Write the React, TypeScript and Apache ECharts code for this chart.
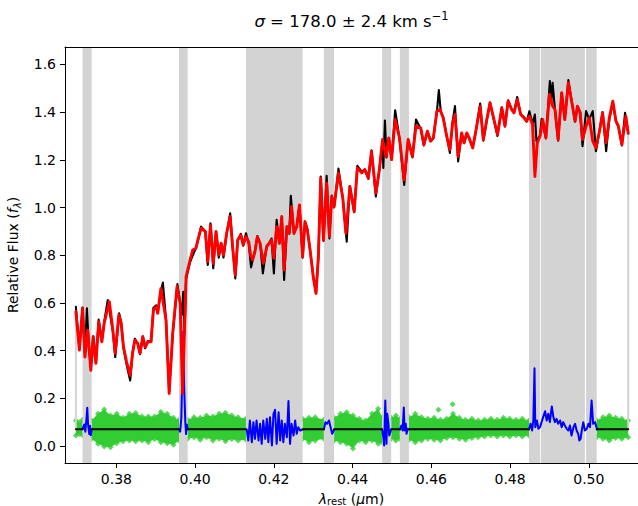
import React, { useEffect, useRef } from 'react';
import * as echarts from 'echarts';

const FONT = '"DejaVu Sans", sans-serif';
const X_MIN = 0.36694;
const X_MAX = 0.51249;
const Y_MIN = -0.0713;
const Y_MAX = 1.673;
const xTicks = [0.38, 0.4, 0.42, 0.44, 0.46, 0.48, 0.5];
const yTicks = [0, 0.2, 0.4, 0.6, 0.8, 1.0, 1.2, 1.4, 1.6];
const MN = 0.07;
const GREEN = '#32cd32';
const LGRAY = '#d3d3d3';

// observed galaxy spectrum [lambda (um), relative flux]
const galaxy = [
  [0.3697,0.584],[0.3706,0.41],[0.3714,0.58],[0.3720,0.38],[0.3725,0.577],[0.3729,0.45],[0.3735,0.33],[0.3741,0.46],[0.3748,0.35],[0.3755,0.53],[0.3763,0.44],[0.3769,0.52],[0.3778,0.612],[0.3791,0.48],[0.3797,0.373],[0.3807,0.556],[0.3812,0.52],[0.3818,0.41],[0.3826,0.34],[0.3835,0.275],[0.3841,0.39],[0.3847,0.45],[0.3854,0.43],[0.3860,0.385],[0.3867,0.46],[0.3873,0.41],[0.3880,0.44],[0.3888,0.44],[0.3894,0.58],[0.3901,0.59],[0.3905,0.56],[0.3913,0.65],[0.3918,0.685],[0.3926,0.53],[0.3934,0.23],[0.3943,0.47],[0.3955,0.679],[0.3962,0.60],[0.3966,0.55],[0.3970,0.647],[0.3973,0.47],[0.3977,0.70],[0.3987,0.77],[0.3994,0.80],[0.4002,0.83],[0.4007,0.86],[0.4015,0.92],[0.4026,0.90],[0.4032,0.759],[0.4039,0.934],[0.4046,0.745],[0.4053,0.90],[0.4060,0.79],[0.4066,0.85],[0.4072,0.79],[0.4080,0.89],[0.4089,0.976],[0.4095,0.84],[0.4102,0.703],[0.4108,0.86],[0.4116,0.89],[0.4122,0.84],[0.4129,0.892],[0.4136,0.85],[0.4142,0.749],[0.4152,0.82],[0.4158,0.88],[0.4165,0.85],[0.4172,0.724],[0.4182,0.84],[0.4188,0.85],[0.4194,0.87],[0.4200,0.724],[0.4207,0.948],[0.4214,0.85],[0.4220,0.96],[0.4226,0.696],[0.4233,0.92],[0.4239,0.89],[0.4243,1.049],[0.4251,0.89],[0.4258,0.92],[0.4265,1.01],[0.4273,0.79],[0.4279,0.94],[0.4285,0.91],[0.4292,0.82],[0.4300,0.71],[0.4307,0.64],[0.4313,0.79],[0.4319,1.130],[0.4326,0.86],[0.4334,1.133],[0.4341,0.87],[0.4347,1.05],[0.4353,1.00],[0.4364,1.163],[0.4375,1.04],[0.4385,0.857],[0.4393,1.09],[0.4404,0.98],[0.4412,1.175],[0.4423,1.15],[0.4431,1.16],[0.4440,1.12],[0.4448,1.24],[0.4459,1.046],[0.4468,1.16],[0.4476,1.28],[0.4478,1.166],[0.4482,1.365],[0.4486,1.21],[0.4492,1.29],[0.4499,1.20],[0.4508,1.408],[0.4519,1.29],[0.4531,1.095],[0.4541,1.285],[0.4552,1.21],[0.4561,1.369],[0.4573,1.33],[0.4581,1.26],[0.4590,1.32],[0.4598,1.28],[0.4605,1.29],[0.4614,1.40],[0.4619,1.492],[0.4624,1.40],[0.4630,1.38],[0.4639,1.30],[0.4647,1.229],[0.4654,1.36],[0.4660,1.425],[0.4668,1.193],[0.4677,1.31],[0.4683,1.27],[0.4690,1.31],[0.4696,1.29],[0.4705,1.25],[0.4713,1.32],[0.4724,1.436],[0.4732,1.28],[0.4741,1.37],[0.4749,1.44],[0.4757,1.38],[0.4768,1.30],[0.4779,1.42],[0.4787,1.34],[0.4795,1.45],[0.4804,1.41],[0.4810,1.40],[0.4818,1.463],[0.4827,1.39],[0.4835,1.38],[0.4842,1.36],[0.4849,1.404],[0.4857,1.35],[0.4863,1.390],[0.4867,1.278],[0.4876,1.30],[0.4880,1.372],[0.4891,1.29],[0.4901,1.530],[0.4905,1.45],[0.4908,1.523],[0.4914,1.41],[0.4922,1.28],[0.4931,1.48],[0.4939,1.37],[0.4948,1.534],[0.4957,1.44],[0.4965,1.36],[0.4971,1.42],[0.4978,1.40],[0.4984,1.257],[0.4993,1.404],[0.5001,1.37],[0.5010,1.404],[0.5018,1.236],[0.5027,1.32],[0.5035,1.40],[0.5044,1.236],[0.5052,1.37],[0.5061,1.44],[0.5069,1.36],[0.5075,1.34],[0.5084,1.26],[0.5092,1.397],[0.5100,1.31]
];

// best-fitting model
const bestfit = [
  [0.3697,0.563],[0.3706,0.402],[0.3714,0.578],[0.3720,0.373],[0.3727,0.486],[0.3735,0.317],[0.3741,0.458],[0.3748,0.347],[0.3755,0.521],[0.3763,0.437],[0.3769,0.515],[0.3775,0.557],[0.3782,0.605],[0.3791,0.486],[0.3797,0.389],[0.3806,0.549],[0.3812,0.515],[0.3818,0.415],[0.3826,0.352],[0.3835,0.296],[0.3841,0.389],[0.3847,0.444],[0.3854,0.430],[0.3860,0.389],[0.3867,0.458],[0.3873,0.415],[0.3880,0.437],[0.3888,0.437],[0.3894,0.570],[0.3901,0.584],[0.3905,0.556],[0.3913,0.661],[0.3926,0.528],[0.3934,0.220],[0.3943,0.472],[0.3954,0.668],[0.3962,0.598],[0.3968,0.220],[0.3977,0.710],[0.3987,0.780],[0.3994,0.822],[0.4002,0.829],[0.4007,0.864],[0.4015,0.913],[0.4026,0.899],[0.4032,0.773],[0.4039,0.927],[0.4046,0.766],[0.4053,0.899],[0.4060,0.801],[0.4066,0.850],[0.4072,0.801],[0.4080,0.892],[0.4089,0.962],[0.4095,0.836],[0.4102,0.717],[0.4108,0.864],[0.4116,0.885],[0.4122,0.843],[0.4129,0.878],[0.4136,0.857],[0.4141,0.800],[0.4146,0.780],[0.4152,0.815],[0.4158,0.878],[0.4165,0.850],[0.4173,0.766],[0.4182,0.836],[0.4188,0.850],[0.4194,0.864],[0.4200,0.787],[0.4207,0.920],[0.4214,0.850],[0.4220,0.962],[0.4226,0.738],[0.4233,0.920],[0.4239,0.892],[0.4245,1.004],[0.4251,0.892],[0.4258,0.920],[0.4265,1.011],[0.4273,0.794],[0.4279,0.941],[0.4285,0.906],[0.4292,0.822],[0.4300,0.710],[0.4307,0.640],[0.4313,0.794],[0.4319,1.124],[0.4326,0.864],[0.4334,1.103],[0.4341,0.878],[0.4347,1.046],[0.4353,1.004],[0.4364,1.145],[0.4375,1.040],[0.4383,0.892],[0.4393,1.088],[0.4404,0.983],[0.4412,1.166],[0.4423,1.145],[0.4431,1.159],[0.4440,1.124],[0.4448,1.235],[0.4459,1.061],[0.4468,1.159],[0.4476,1.285],[0.4485,1.214],[0.4492,1.292],[0.4499,1.201],[0.4508,1.369],[0.4519,1.292],[0.4531,1.116],[0.4541,1.285],[0.4552,1.214],[0.4561,1.341],[0.4573,1.334],[0.4581,1.264],[0.4590,1.320],[0.4598,1.278],[0.4605,1.292],[0.4614,1.404],[0.4622,1.411],[0.4630,1.376],[0.4639,1.299],[0.4647,1.243],[0.4654,1.355],[0.4660,1.390],[0.4668,1.214],[0.4677,1.313],[0.4683,1.271],[0.4690,1.313],[0.4696,1.292],[0.4705,1.250],[0.4713,1.320],[0.4724,1.425],[0.4732,1.285],[0.4741,1.369],[0.4749,1.439],[0.4757,1.383],[0.4768,1.306],[0.4779,1.418],[0.4787,1.341],[0.4795,1.446],[0.4804,1.411],[0.4810,1.397],[0.4818,1.453],[0.4827,1.390],[0.4835,1.376],[0.4842,1.362],[0.4849,1.383],[0.4857,1.348],[0.4863,1.130],[0.4869,1.271],[0.4876,1.299],[0.4883,1.369],[0.4891,1.292],[0.4900,1.474],[0.4908,1.425],[0.4914,1.411],[0.4922,1.285],[0.4931,1.481],[0.4939,1.369],[0.4948,1.523],[0.4957,1.439],[0.4965,1.362],[0.4971,1.425],[0.4978,1.397],[0.4984,1.285],[0.4993,1.341],[0.5001,1.376],[0.5010,1.278],[0.5018,1.250],[0.5027,1.320],[0.5035,1.397],[0.5044,1.271],[0.5052,1.376],[0.5061,1.446],[0.5069,1.362],[0.5075,1.341],[0.5084,1.264],[0.5094,1.383],[0.5100,1.313]
];

// masked wavelength ranges (gray spans)
const maskBands = [
  [0.3714,0.3737],[0.3959,0.3981],[0.4129,0.4273],[0.4327,0.4353],[0.4475,0.4498],[0.4520,0.4543],[0.4848,0.4876],[0.4878,0.4990],[0.4993,0.5020]
];

// residuals (offset by MN) inside the masked ranges
const blue1 = [[0.3714,0.07],[0.3718,0.09],[0.3721,0.06],[0.3724,0.115],[0.3726,0.16],[0.3728,0.09],[0.3731,0.05],[0.3733,0.085],[0.3735,0.045],[0.3737,0.07]];
const blue2 = [[0.3959,0.07],[0.3962,0.06],[0.3965,0.12],[0.3968,0.36],[0.3970,0.48],[0.3972,0.25],[0.3975,0.10],[0.3977,0.05],[0.3979,0.09],[0.3981,0.07]];
const blue3 = [[0.4129,0.069],[0.4131,0.069],[0.4135,0.023],[0.4139,0.107],[0.4144,0.016],[0.4148,0.100],[0.4152,0.030],[0.4156,0.107],[0.4161,0.023],[0.4165,0.093],[0.4169,0.009],[0.4173,0.107],[0.4178,0.030],[0.4182,0.114],[0.4186,0.016],[0.4190,0.121],[0.4195,0.002],[0.4199,0.135],[0.4203,0.152],[0.4207,0.009],[0.4212,0.142],[0.4216,0.023],[0.4220,0.107],[0.4224,0.016],[0.4228,0.093],[0.4233,0.037],[0.4237,0.189],[0.4241,0.009],[0.4245,0.093],[0.4250,0.044],[0.4254,0.107],[0.4258,0.051],[0.4262,0.079],[0.4267,0.065],[0.4273,0.069]];
const blue4 = [[0.4327,0.069],[0.4331,0.100],[0.4335,0.093],[0.4340,0.107],[0.4344,0.079],[0.4348,0.051],[0.4353,0.069]];
const blue5 = [[0.4475,0.069],[0.4478,0.037],[0.4480,0.002],[0.4483,0.191],[0.4486,0.009],[0.4488,0.135],[0.4491,0.093],[0.4493,0.044],[0.4498,0.069]];
const blue6 = [[0.4520,0.069],[0.4524,0.086],[0.4527,0.065],[0.4530,0.161],[0.4532,0.065],[0.4535,0.093],[0.4537,0.051],[0.4540,0.072],[0.4543,0.069]];
const blue7 = [[0.4848,0.069],[0.4852,0.093],[0.4856,0.065],[0.4859,0.107],[0.4862,0.326],[0.4864,0.079],[0.4868,0.107],[0.4872,0.072],[0.4876,0.079],[0.4880,0.100],[0.4884,0.121],[0.4889,0.146],[0.4893,0.107],[0.4897,0.135],[0.4901,0.100],[0.4906,0.166],[0.4910,0.121],[0.4914,0.100],[0.4918,0.114],[0.4922,0.093],[0.4927,0.107],[0.4931,0.079],[0.4935,0.100],[0.4939,0.086],[0.4944,0.072],[0.4948,0.065],[0.4952,0.086],[0.4956,0.044],[0.4961,0.079],[0.4965,0.093],[0.4969,0.065],[0.4973,0.051],[0.4976,0.023],[0.4979,0.030],[0.4982,0.065],[0.4986,0.100],[0.4990,0.065],[0.4995,0.072],[0.4999,0.093],[0.5003,0.079],[0.5007,0.191],[0.5011,0.093],[0.5016,0.100],[0.5021,0.069]];
const blueSegs = [blue1, blue2, blue3, blue4, blue5, blue6, blue7];

// good-pixel ranges where the zero-residual (MN) level is marked
const goodRanges = [
  [0.3697,0.3714],[0.3737,0.3959],[0.3981,0.4129],[0.4273,0.4327],[0.4353,0.4475],[0.4498,0.4520],[0.4543,0.4848],[0.5020,0.5100]
];

// envelope of the good-pixel residual diamonds (null = gap)
const greenLam = [0.3697,0.3706,0.3714,null,
  0.3737,0.3753,0.3769,0.3785,0.3801,0.3817,0.3833,0.3849,0.3865,0.3881,0.3897,0.3913,0.3929,0.3945,0.3959,null,
  0.3981,0.3997,0.4013,0.4029,0.4045,0.4061,0.4077,0.4093,0.4109,0.4129,null,
  0.4273,0.4289,0.4305,0.4327,null,
  0.4353,0.4369,0.4385,0.4401,0.4417,0.4433,0.4449,0.4465,0.4475,null,
  0.4498,0.4510,0.4520,null,
  0.4543,0.4559,0.4575,0.4591,0.4607,0.4623,0.4639,0.4655,0.4671,0.4687,0.4703,0.4719,0.4735,0.4751,0.4767,0.4783,0.4799,0.4815,0.4831,0.4848,null,
  0.5020,0.5036,0.5052,0.5068,0.5084,0.5100];
const greenHi = [0.107,0.100,0.110,null,
  0.107,0.135,0.153,0.128,0.135,0.118,0.135,0.138,0.124,0.124,0.124,0.143,0.135,0.118,0.110,null,
  0.110,0.121,0.118,0.128,0.124,0.135,0.139,0.128,0.121,0.114,null,
  0.114,0.118,0.121,0.110,null,
  0.118,0.135,0.142,0.128,0.114,0.107,0.135,0.156,0.121,null,
  0.118,0.128,0.114,null,
  0.121,0.135,0.121,0.114,0.118,0.110,0.114,0.135,0.118,0.110,0.114,0.107,0.110,0.114,0.110,0.118,0.114,0.110,0.114,0.107,null,
  0.107,0.121,0.128,0.118,0.114,0.107];
const greenLo = [0.044,0.050,0.045,null,
  0.030,0.009,-0.002,-0.005,0.012,0.020,0.023,0.020,0.023,0.016,0.029,0.016,0.012,0.005,0.023,null,
  0.030,0.037,0.026,0.037,0.023,0.030,0.020,0.029,0.023,0.026,null,
  0.030,0.016,0.023,0.030,null,
  0.023,0.016,0.009,-0.010,0.023,0.016,0.023,0.009,0.016,null,
  0.030,0.023,0.030,null,
  0.026,0.016,0.023,0.030,0.026,0.023,0.034,0.037,0.030,0.026,0.034,0.037,0.040,0.044,0.040,0.044,0.040,0.044,0.040,0.044,null,
  0.037,0.030,0.023,0.034,0.030,0.037];
const greenOutliers = [[0.4618,0.152],[0.4654,0.175]];

// first / last good pixel markers
const edgeLines = [[0.3697,0.563],[0.5100,1.313]];

function buildGreenSegs() {
  const segs: number[][][] = [];
  let cur: number[][] = [];
  for (let i = 0; i < greenLam.length; i++) {
    if (greenLam[i] === null) {
      if (cur.length) segs.push(cur);
      cur = [];
    } else {
      cur.push([greenLam[i] as number, greenHi[i] as number, greenLo[i] as number]);
    }
  }
  if (cur.length) segs.push(cur);
  return segs;
}

function line(data: any[], color: string, width: number, z: number) {
  return {
    type: 'line', data, showSymbol: false, symbol: 'none', smooth: false, silent: true, z,
    clip: true, animation: false,
    lineStyle: { color, width, cap: 'round', join: 'round' },
  };
}

export default function App() {
  const ref = useRef<HTMLDivElement>(null);
  useEffect(() => {
    const chart = echarts.init(ref.current as HTMLDivElement, null, { renderer: 'svg', width: 638, height: 506 });
    const greenSegs = buildGreenSegs();
    const diamonds: number[][] = [];
    greenSegs.forEach((s) => s.forEach((p) => { diamonds.push([p[0], p[1]]); diamonds.push([p[0], p[2]]); }));
    greenOutliers.forEach((p) => diamonds.push(p));

    const series: any[] = [];
    series.push({
      type: 'custom', z: 2, silent: true, clip: true,
      data: greenSegs.map((s, i) => [s[0][0], s[0][1], i]),
      encode: { x: 0, y: 1 },
      renderItem: (params: any, api: any) => {
        const seg = greenSegs[params.dataIndex];
        const pts = seg.map((p) => api.coord([p[0], p[1]]))
          .concat(seg.slice().reverse().map((p) => api.coord([p[0], p[2]])));
        return { type: 'polygon', shape: { points: pts }, style: { fill: GREEN } };
      },
    });
    series.push({
      type: 'scatter', z: 2, silent: true, data: diamonds, symbol: 'diamond', symbolSize: 6,
      itemStyle: { color: GREEN }, clip: true,
    });
    series.push({
      type: 'custom', z: 3, silent: true, clip: true,
      data: maskBands.map((b) => [b[0], b[1], 0]),
      encode: { x: [0, 1], y: 2 },
      renderItem: (params: any, api: any) => {
        const p0 = api.coord([api.value(0), Y_MAX]);
        const p1 = api.coord([api.value(1), Y_MIN]);
        return { type: 'rect', shape: { x: p0[0], y: p0[1], width: p1[0] - p0[0], height: p1[1] - p0[1] }, style: { fill: LGRAY } };
      },
    });
    blueSegs.forEach((s) => series.push(line(s, '#0000ff', 2, 4)));
    edgeLines.forEach((e) => series.push(line([[e[0], MN], [e[0], e[1]]], LGRAY, 2, 4)));
    goodRanges.forEach((r) => series.push(line([[r[0], MN], [r[1], MN]], '#000000', 2, 5)));
    series.push(line(galaxy, '#000000', 2.1, 6));
    series.push(line(bestfit, '#ff0000', 2.9, 7));

    const axisText = { color: '#000', fontSize: 14, fontFamily: FONT };
    const option: any = {
      animation: false,
      backgroundColor: '#ffffff',
      grid: { left: 65, right: 0, top: 47, bottom: 43, containLabel: false, outerBoundsMode: 'none' },
      xAxis: [
        {
          type: 'value', min: X_MIN, max: X_MAX, position: 'bottom', z: 10,
          axisLine: { show: true, onZero: false, lineStyle: { color: '#000', width: 1 } },
          axisTick: { show: true, length: 5, customValues: xTicks, lineStyle: { color: '#000', width: 1 } },
          axisLabel: { ...axisText, margin: 9, customValues: xTicks, formatter: (v: number) => v.toFixed(2) },
          splitLine: { show: false },
          name: '{i|λ}{s|rest} ({i|μ}m)',
          nameLocation: 'middle', nameGap: 25,
          nameTextStyle: {
            ...axisText,
            lineHeight: 16,
            rich: {
              a: { ...axisText, lineHeight: 16, verticalAlign: 'middle' },
              i: { ...axisText, fontStyle: 'italic', lineHeight: 16, verticalAlign: 'middle' },
              s: { ...axisText, fontSize: 10, lineHeight: 16, verticalAlign: 'bottom' },
            },
          },
        },
        {
          type: 'value', min: X_MIN, max: X_MAX, position: 'top', z: 10,
          axisLine: { show: true, onZero: false, lineStyle: { color: '#000', width: 1 } },
          axisTick: { show: false }, axisLabel: { show: false }, splitLine: { show: false },
        },
      ],
      yAxis: {
        type: 'value', min: Y_MIN, max: Y_MAX, z: 10,
        axisLine: { show: true, onZero: false, lineStyle: { color: '#000', width: 1 } },
        axisTick: { show: true, length: 5, customValues: yTicks, lineStyle: { color: '#000', width: 1 } },
        axisLabel: { ...axisText, margin: 9, customValues: yTicks, formatter: (v: number) => v.toFixed(1) },
        splitLine: { show: false },
        name: '{a|Relative Flux (}{i|f}{s|λ}{a|)}',
        nameLocation: 'middle', nameGap: 41,
        nameTextStyle: {
          ...axisText,
          rich: {
            a: { ...axisText, lineHeight: 20, verticalAlign: 'middle' },
            i: { ...axisText, fontStyle: 'italic', lineHeight: 20, verticalAlign: 'middle' },
            s: { ...axisText, fontSize: 10, fontStyle: 'italic', lineHeight: 20, verticalAlign: 'bottom' },
          },
        },
      },
      graphic: [
        {
          type: 'text', x: 351.5, y: 21, z: 100,
          style: {
            text: '{i|σ} = 178.0 ± 2.4 km s{p|−1}',
            textAlign: 'center', textVerticalAlign: 'middle',
            fill: '#000', fontSize: 16.5, fontFamily: FONT,
            rich: {
              i: { fontSize: 16.5, fontFamily: FONT, fontStyle: 'italic', lineHeight: 22, verticalAlign: 'middle', fill: '#000' },
              p: { fontSize: 11.5, fontFamily: FONT, lineHeight: 22, verticalAlign: 'top', fill: '#000' },
            },
          },
        },
      ],
      series,
    };
    chart.setOption(option);
    return () => chart.dispose();
  }, []);
  return <div ref={ref} style={{ position: 'absolute', left: 0, top: 0, width: 638, height: 506 }} />;
}
